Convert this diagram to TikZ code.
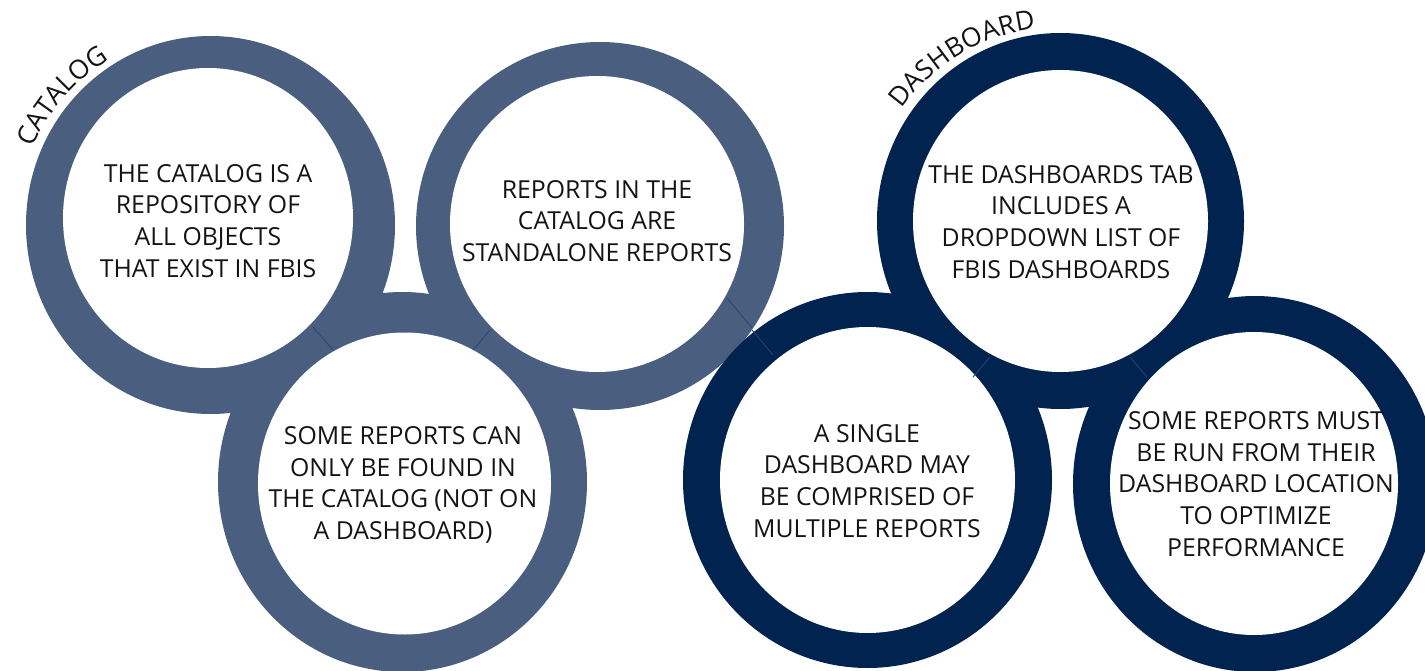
\documentclass[tikz,border=0pt]{standalone}
\usepackage{fontspec}
\setmainfont{Open Sans}
\usetikzlibrary{decorations.text}
\definecolor{slate}{HTML}{4A5F80}
\definecolor{slateseam}{HTML}{2E4672}
\definecolor{navy}{HTML}{00244F}
\definecolor{navyseam}{HTML}{1E4275}
\definecolor{ink}{HTML}{141414}
\begin{document}
\begin{tikzpicture}[x=1pt,y=-1pt,
  note/.style={align=center, text=ink, inner sep=0pt,
    font=\fontsize{24.8}{31.8}\selectfont},
  ringfill/.style={fill=#1},
  hole/.style={fill=white},
  seam/.style={draw=#1, line width=0.9pt},
  arclabel/.style={decorate, decoration={text along path, text align=center,
    text color=ink, text={|\fontsize{26.5}{26.5}\selectfont|#1}}}]
\useasboundingbox (0,0) rectangle (1425,671);
\clip (0,0) rectangle (1425,671);

% catalog rings (outer discs)
\path[ringfill=slate] (210.5,225) ellipse[x radius=184.5, y radius=189];
\path[ringfill=slate] (600,226) ellipse[x radius=184, y radius=184];
\path[ringfill=slate] (402.5,482) ellipse[x radius=184.5, y radius=190];

% dashboard rings (outer discs)
\path[ringfill=navy] (1060.5,221) ellipse[x radius=183.5, y radius=188];
\path[ringfill=navy] (867.5,480) ellipse[x radius=184.5, y radius=188];
\path[ringfill=navy] (1255,484) ellipse[x radius=182, y radius=188];

% ring openings
\path[hole] (208,218) ellipse[x radius=145, y radius=150];
\path[hole] (597,224) ellipse[x radius=147, y radius=148];
\path[hole] (404.5,483.5) ellipse[x radius=146.5, y radius=151];
\path[hole] (1060.5,221) ellipse[x radius=147.5, y radius=151];
\path[hole] (867.5,480) ellipse[x radius=147.5, y radius=153];
\path[hole] (1254,483.5) ellipse[x radius=144, y radius=151.5];

% seams between ring segments
\path[seam=slateseam] (313,327) -- (333,350);
\path[seam=slateseam] (490,330) -- (473,350);
\path[seam=slateseam] (727,298) -- (752,328);
\path[seam=navyseam] (752,330) -- (773,355);
\path[seam=navyseam] (990,357) -- (973,377);
\path[seam=navyseam] (1130,357) -- (1147,377);

% group labels along the rings
\path[arclabel=CATALOG] (210.5,225) ++(-164:194) arc[start angle=-164, end angle=-114, radius=194];
\path[arclabel=DASHBOARD] (1060.5,221) ++(-154:194) arc[start angle=-154, end angle=-88, radius=194];

% ring texts
\node[note] (repo) at (208,221) {THE CATALOG IS A\\REPOSITORY OF\\ALL OBJECTS\\THAT EXIST IN FBIS};
\node[note] (standalone) at (597,221) {REPORTS IN THE\\CATALOG ARE\\STANDALONE REPORTS};
\node[note] (catalogonly) at (403,485) {SOME REPORTS CAN\\ONLY BE FOUND IN\\THE CATALOG (NOT ON\\A DASHBOARD)};
\node[note] (tab) at (1061,222) {THE DASHBOARDS TAB\\INCLUDES A\\DROPDOWN LIST OF\\FBIS DASHBOARDS};
\node[note] (single) at (867,481) {A SINGLE\\DASHBOARD MAY\\BE COMPRISED OF\\MULTIPLE REPORTS};
\node[note] (perf) at (1256,484) {SOME REPORTS MUST\\BE RUN FROM THEIR\\DASHBOARD LOCATION\\TO OPTIMIZE\\PERFORMANCE};
\end{tikzpicture}
\end{document}
